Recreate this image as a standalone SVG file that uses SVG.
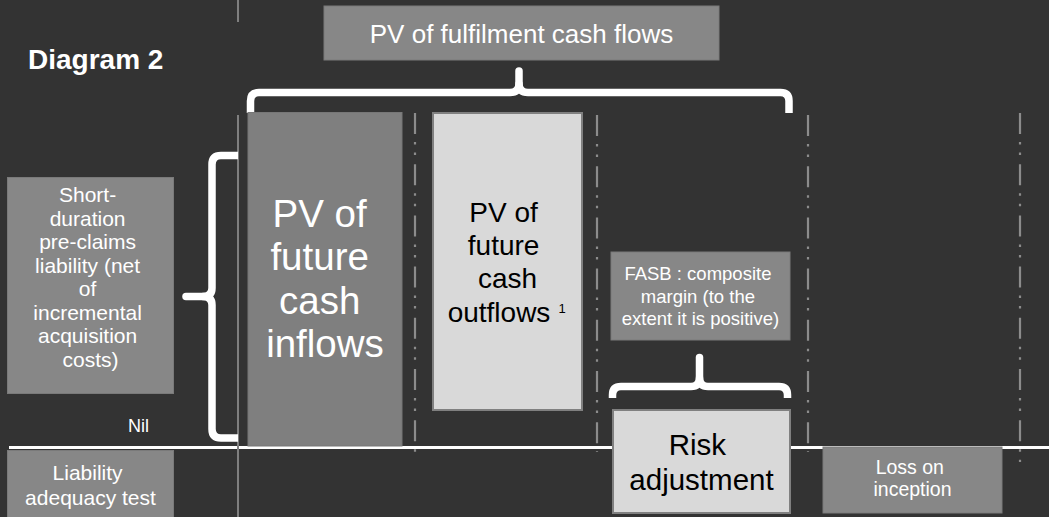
<svg xmlns="http://www.w3.org/2000/svg" width="1049" height="517" viewBox="0 0 1049 517">
  <defs>
    <style>
      text { font-family: "Liberation Sans", Arial, sans-serif; text-anchor: middle; }
      .mid { fill: #878787; stroke: #7a7a7a; stroke-width: 1; }
      .dark { fill: #7f7f7f; stroke: #777777; stroke-width: 1; }
      .light { fill: #d9d9d9; stroke: #808080; stroke-width: 2; }
      .wt { fill: #ffffff; }
      .bk { fill: #000000; }
      .brace { fill: none; stroke: #ffffff; stroke-width: 7.5; stroke-linejoin: round; }
      .tip { fill: none; stroke: #ffffff; stroke-width: 7.5; stroke-linecap: round; }
      .divider { stroke: #8c8c8c; stroke-width: 2.2; stroke-dasharray: 21 8 2.5 8 2.5 9.2; }
      .axis { stroke: #7f7f7f; stroke-width: 2; }
    </style>
  </defs>

  <!-- background -->
  <rect x="0" y="0" width="1049" height="517" fill="#333333"/>

  <!-- baseline and column dividers -->
  <g id="connectors">
    <line x1="9" y1="447.5" x2="1049" y2="447.5" stroke="#ffffff" stroke-width="3"/>
    <line class="divider" x1="415" y1="113" x2="415" y2="452"/>
    <line class="divider" x1="597" y1="115" x2="597" y2="452"/>
    <line class="divider" x1="808" y1="115" x2="808" y2="452"/>
    <line class="divider" x1="1020" y1="113" x2="1020" y2="462"/>
    <line class="axis" x1="238" y1="0" x2="238" y2="22"/>
    <line class="axis" x1="238" y1="115" x2="238" y2="517"/>

    <!-- top brace: fulfilment cash flows -->
    <path class="brace" d="M250.5,113 V101 Q250.5,92.5 259,92.5 H510 Q519,92.5 519,84 Q519,92.5 528,92.5 H780.5 Q789,92.5 789,101 V113"/>
    <line class="tip" x1="519" y1="86" x2="519" y2="71"/>

    <!-- left brace: pre-claims liability -->
    <path class="brace" d="M238,155.5 H221 Q212,155.5 212,164.5 V288 Q212,296.5 203,296.5 Q212,296.5 212,305 V429 Q212,438 221,438 H238"/>
    <line class="tip" x1="205" y1="296.5" x2="186" y2="296.5"/>

    <!-- lower brace: risk adjustment -->
    <path class="brace" d="M612.5,398 V395 Q612.5,386.5 621,386.5 H691 Q699.5,386.5 699.5,378 Q699.5,386.5 708,386.5 H779 Q787.5,386.5 787.5,395 V398"/>
    <line class="tip" x1="699.5" y1="380" x2="699.5" y2="357.5"/>
  </g>

  <!-- heading -->
  <g id="title">
    <text x="28" y="69" class="wt" style="text-anchor:start;font-size:28px;font-weight:bold">Diagram 2</text>
  </g>

  <g id="fulfilment">
    <rect class="mid" x="324" y="6" width="395" height="54"/>
    <text x="521.5" y="42.5" class="wt" font-size="26">PV of fulfilment cash flows</text>
  </g>

  <g id="preclaims">
    <rect class="mid" x="7.5" y="177.5" width="166" height="216"/>
    <text class="wt" font-size="21">
      <tspan x="90.5" y="202">Short-</tspan>
      <tspan x="90.5" y="225.5">duration</tspan>
      <tspan x="90.5" y="249">pre-claims</tspan>
      <tspan x="90.5" y="272.5">liability (net</tspan>
      <tspan x="90.5" y="296">of</tspan>
      <tspan x="90.5" y="319.5">incremental</tspan>
      <tspan x="90.5" y="343">acquisition</tspan>
      <tspan x="90.5" y="366.5">costs)</tspan>
    </text>
  </g>

  <g id="nil">
    <text x="149" y="432" class="wt" font-size="18" style="text-anchor:end">Nil</text>
  </g>

  <g id="lat">
    <rect class="mid" x="7.5" y="450.5" width="166" height="70"/>
    <text class="wt" font-size="21">
      <tspan x="90.5" y="480">Liability</tspan>
      <tspan x="90.5" y="505">adequacy test</tspan>
    </text>
  </g>

  <g id="inflows">
    <rect class="dark" x="248" y="112.5" width="154" height="333.5"/>
    <text class="wt" font-size="38.5">
      <tspan x="325" y="227">PV of</tspan>
      <tspan x="325" y="270.3">future</tspan>
      <tspan x="325" y="313.6">cash</tspan>
      <tspan x="325" y="356.9">inflows</tspan>
    </text>
  </g>

  <g id="outflows">
    <rect class="light" x="433" y="113" width="149" height="297"/>
    <text class="bk" font-size="28">
      <tspan x="507.5" y="221.7">PV of</tspan>
      <tspan x="507.5" y="255">future</tspan>
      <tspan x="507.5" y="288.3">cash</tspan>
    </text>
    <text x="499" y="321.7" class="bk" font-size="28">outflows</text>
    <text x="562" y="313" class="bk" font-size="13">1</text>
  </g>

  <g id="composite">
    <rect class="mid" x="611" y="252" width="179" height="88"/>
    <text class="wt" font-size="18.5">
      <tspan x="700.5" y="280">FASB : composite</tspan>
      <tspan x="700.5" y="302.5">margin (to the</tspan>
      <tspan x="700.5" y="325">extent it is positive)</tspan>
    </text>
  </g>

  <g id="risk">
    <rect class="light" x="613" y="410" width="177" height="103"/>
    <text class="bk" font-size="29.5">
      <tspan x="701.5" y="454.5">Risk</tspan>
      <tspan x="701.5" y="490">adjustment</tspan>
    </text>
  </g>

  <g id="loss">
    <rect class="mid" x="823" y="447" width="179" height="66"/>
    <text class="wt" font-size="19.5">
      <tspan x="912.5" y="474">Loss on</tspan>
      <tspan x="912.5" y="496">inception</tspan>
    </text>
  </g>
</svg>
